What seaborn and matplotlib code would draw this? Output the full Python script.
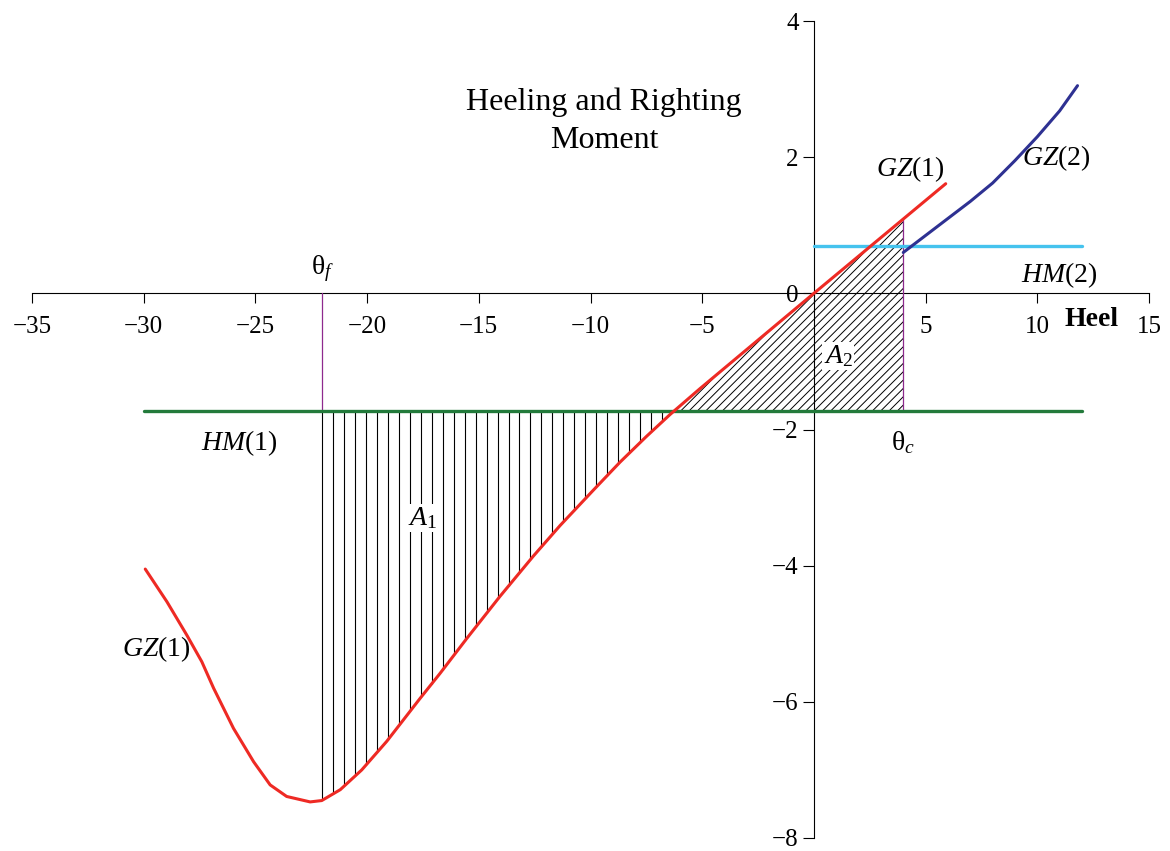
"""plot.py

Heeling and righting moment curves with the A1 / A2 areas.

"""

import numpy as np
import matplotlib
matplotlib.use("Agg")
import matplotlib.pyplot as plt
import seaborn as sns

# GZ(1) righting arm curve
gz1_heel = [-29.93, -28.96, -28.07, -27.4, -26.87, -25.98, -25.08, -24.34,
            -23.6, -22.55, -22.03, -21.2, -20.24, -19.12, -17.63, -16.73,
            -15.54, -14.05, -12.56, -11.36, -9.87, -8.68, -7.49, -6.44,
            -5.1, 0.0, 5.9]
gz1_value = [-4.05, -4.53, -5.02, -5.41, -5.80, -6.39, -6.88, -7.22,
             -7.39, -7.47, -7.45, -7.29, -7.00, -6.58, -5.95, -5.58,
             -5.07, -4.45, -3.86, -3.41, -2.89, -2.48, -2.10, -1.78,
             -1.40, 0.0, 1.61]

# GZ(2) righting arm curve
gz2_heel = [4.0, 5.0, 6.0, 7.0, 8.0, 9.0, 10.0, 11.0, 11.8]
gz2_value = [0.60, 0.85, 1.10, 1.35, 1.62, 1.95, 2.30, 2.68, 3.05]

# heeling moments
hm1_heel = [-30.0, 12.0]
hm1_value = [-1.73, -1.73]
hm2_heel = [0.0, 12.0]
hm2_value = [0.69, 0.69]

theta_f = -22.0
theta_c = 4.0

x_ticks = [-35, -30, -25, -20, -15, -10, -5, 0, 5, 10, 15]
x_labels = ["−35", "−30", "−25", "−20", "−15", "−10", "−5", "", "5", "10", "15"]
y_ticks = [-8, -6, -4, -2, 0, 2, 4]
y_labels = ["−8", "−6", "−4", "−2", "0", "2", "4"]

RED = "#ee2a24"
BLUE = "#2e3192"
GREEN = "#237a3b"
CYAN = "#45c3ee"
PURPLE = "#8e2a8e"


def run():
    sns.set_theme(style="white")
    plt.rcParams["font.family"] = ["Liberation Serif", "DejaVu Serif"]
    plt.rcParams["text.color"] = "black"
    plt.rcParams["mathtext.fontset"] = "custom"
    plt.rcParams["mathtext.rm"] = "Liberation Serif"
    plt.rcParams["mathtext.it"] = "Liberation Serif:italic"
    plt.rcParams["mathtext.bf"] = "Liberation Serif:bold"
    plt.rcParams["hatch.linewidth"] = 0.7

    fig = plt.figure(figsize=(11.7, 8.51), dpi=100)
    ax = fig.add_axes([32 / 1170, 13 / 851, 1117 / 1170, 817 / 851])
    ax.set_xlim(-35, 15)
    ax.set_ylim(-8, 4)

    hm1 = hm1_value[0]

    # A1: vertical hatch lines between HM(1) and GZ(1)
    cross = np.interp(hm1, gz1_value[10:26], gz1_heel[10:26])
    hatch_x = np.arange(theta_f, cross, 0.49)
    ax.vlines(hatch_x, hm1, np.interp(hatch_x, gz1_heel, gz1_value),
              color="black", linewidth=0.8, zorder=1)

    # A2: diagonal hatch between HM(1) and GZ(1)
    fill_x = np.linspace(cross, theta_c, 100)
    ax.fill_between(fill_x, hm1, np.interp(fill_x, gz1_heel, gz1_value),
                    facecolor="none", edgecolor="black", hatch="////",
                    linewidth=0, zorder=1)

    # theta lines
    gz_c = np.interp(theta_c, gz1_heel, gz1_value)
    ax.plot([theta_f, theta_f], [hm1, 0], color=PURPLE, linewidth=0.9, zorder=2)
    ax.plot([theta_c, theta_c], [hm1, gz_c], color=PURPLE, linewidth=0.9, zorder=2)

    sns.lineplot(x=hm1_heel, y=hm1_value, color=GREEN, linewidth=2.4, ax=ax, zorder=3)
    sns.lineplot(x=hm2_heel, y=hm2_value, color=CYAN, linewidth=2.4, ax=ax, zorder=3)
    sns.lineplot(x=gz1_heel, y=gz1_value, color=RED, linewidth=2.2, ax=ax, zorder=4)
    sns.lineplot(x=gz2_heel, y=gz2_value, color=BLUE, linewidth=2.2, ax=ax, zorder=4)

    # axes through the origin
    for side in ["top", "right"]:
        ax.spines[side].set_visible(False)
    ax.spines["left"].set_position(("data", 0))
    ax.spines["bottom"].set_position(("data", 0))
    for side in ["left", "bottom"]:
        ax.spines[side].set_color("black")
        ax.spines[side].set_linewidth(0.8)
        ax.spines[side].set_zorder(0.5)
    ax.set_xticks(x_ticks)
    ax.set_xticklabels(x_labels)
    ax.set_yticks(y_ticks)
    ax.set_yticklabels(y_labels)
    ax.tick_params(axis="x", direction="out", length=7, width=0.8,
                   pad=9, labelsize=18, colors="black", bottom=True)
    ax.tick_params(axis="y", direction="out", length=8, width=0.8,
                   pad=3, labelsize=18, colors="black", left=True)
    ax.grid(False)
    ax.set_xlabel("")
    ax.set_ylabel("")

    label_kw = dict(fontsize=20, ha="center", va="center", color="black")
    ax.text(-9.4, 2.53, "Heeling and Righting\nMoment", fontsize=23,
            ha="center", va="center", linespacing=1.4, color="black")
    ax.text(-29.45, -5.22, r"$GZ$(1)", **label_kw)
    ax.text(4.3, 1.82, r"$GZ$(1)", **label_kw)
    ax.text(10.85, 1.98, r"$GZ$(2)", **label_kw)
    ax.text(11.0, 0.27, r"$HM$(2)", **label_kw)
    ax.text(-25.7, -2.2, r"$HM$(1)", **label_kw)
    ax.text(theta_f, 0.36, r"θ$_{f}$", **label_kw)
    ax.text(theta_c, -2.2, r"θ$_{c}$", **label_kw)
    ax.text(12.45, -0.38, "Heel", fontsize=20, fontweight="bold",
            ha="center", va="center", color="black")
    box = dict(facecolor="white", edgecolor="none", pad=1)
    ax.text(-17.5, -3.3, r"$A_1$", bbox=box, zorder=5, **label_kw)
    ax.text(1.1, -0.92, r"$A_2$", bbox=box, zorder=5, **label_kw)

    fig.savefig("out.png", dpi=100)


if __name__ == "__main__":
    run()
